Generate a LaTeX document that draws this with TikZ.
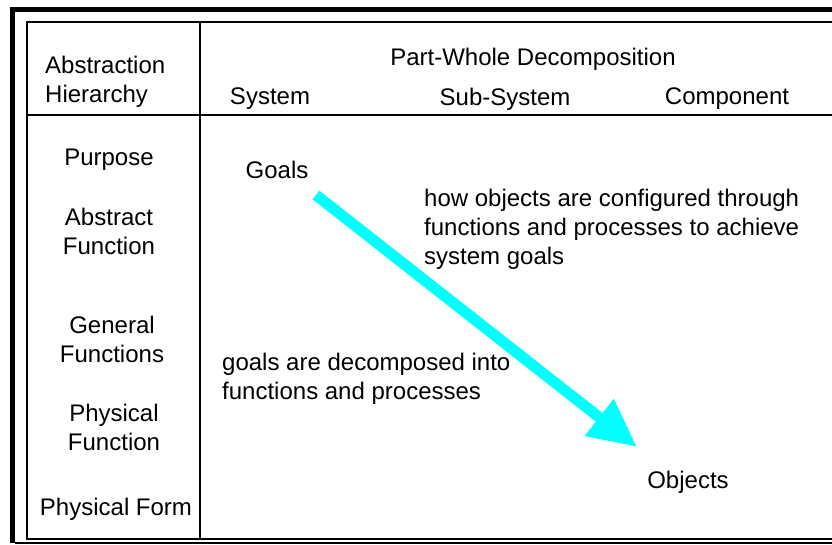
\documentclass[tikz,border=0pt]{standalone}
\usepackage{fontspec}
\setmainfont{Liberation Sans}
\usetikzlibrary{arrows.meta}
\definecolor{arrowcyan}{RGB}{0,255,255}
\begin{document}
\begin{tikzpicture}[x=1pt,y=-1pt,
  txt/.style={inner sep=0pt,font=\fontsize{24}{29}\selectfont},
  rule/.style={line width=2pt,black},
  frame/.style={line width=5pt,black},
  bigarrow/.style={line width=11pt,arrowcyan,-{Triangle[length=48pt,width=44pt]}}]
\useasboundingbox (0,0) rectangle (832,545);
% outer frame
\draw[frame] (12.5,543) -- (12.5,9.5) -- (832,9.5);
\draw[line width=1.2pt] (15,543) -- (832,543);
% table
\draw[rule] (832,22) -- (27,22) -- (27,538.5) -- (832,538.5);
\draw[rule] (200,22) -- (200,538.5);
\draw[rule] (27,115) -- (832,115);
% header
\node[txt,anchor=west,align=left] (ah) at (45,82) {Abstraction\\Hierarchy};
\node[txt] (pwd) at (533,59) {Part-Whole Decomposition};
\node[txt] (sys) at (270,99) {System};
\node[txt] (sub) at (505,99) {Sub-System};
\node[txt] (comp) at (727,99) {Component};
% rows
\node[txt,align=center] (pur) at (109,160) {Purpose};
\node[txt,align=center] (abf) at (109,231) {Abstract\\Function};
\node[txt,align=center] (gef) at (112,339) {General\\Functions};
\node[txt,align=center] (phf) at (114,427) {Physical\\Function};
\node[txt,align=center] (pform) at (116,509) {Physical Form};
% body
\node[txt] (goals) at (277,170) {Goals};
\node[txt] (objects) at (688,482) {Objects};
\node[txt,anchor=west,align=left] (how) at (424,229) {how objects are configured through\\functions and processes to achieve\\system goals};
\node[txt,anchor=west,align=left] (dec) at (222,379) {goals are decomposed into\\functions and processes};
% arrow
\coordinate (astart) at (316,195);
\coordinate (aend) at (637,447);
\draw[bigarrow] (astart) -- (aend);
\end{tikzpicture}
\end{document}
